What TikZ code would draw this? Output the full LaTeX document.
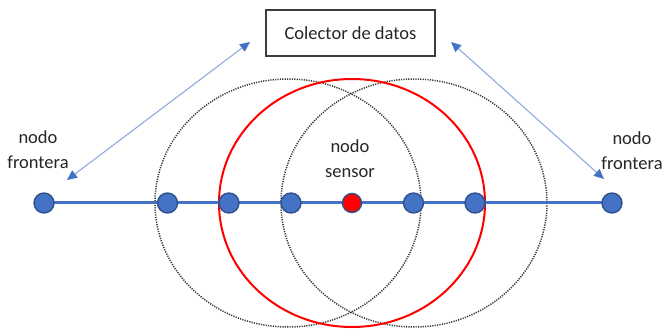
\documentclass[tikz,border=0pt]{standalone}
\usepackage{fontspec}
\setmainfont{Carlito}
\usepackage{tikz}
\usetikzlibrary{arrows.meta, positioning}
\usepackage{xcolor}
\definecolor{nodeblue}{RGB}{68,114,196}
\definecolor{nodeedge}{RGB}{47,82,143}
\definecolor{linkblue}{RGB}{143,170,220}
\definecolor{textgray}{RGB}{38,38,38}

\begin{document}
\begin{tikzpicture}[x=1pt, y=-1pt,
bluenode/.style={circle, draw=nodeedge, fill=nodeblue, line width=1.4pt, minimum size=20pt, inner sep=0pt},
rednode/.style={bluenode, fill=red, minimum size=19pt},
labelnode/.style={align=center, font=\fontsize{18.5}{25}\selectfont, text=textgray, inner sep=0pt},
collectorbox/.style={rectangle, draw=textgray!90, line width=1.5pt, minimum width=169pt, minimum height=46pt, inner sep=0pt, font=\fontsize{18.5}{25}\selectfont, text=textgray},
rangering/.style={draw=gray!45!black, line width=1.5pt, dash pattern=on 1.2pt off 1.2pt},
linkarrow/.style={{Triangle[length=10pt, width=9pt, color=nodeblue]}-{Triangle[length=10pt, width=9pt, color=nodeblue]}, draw=linkblue, line width=1.1pt},
]
\useasboundingbox (0,0) rectangle (664,331);

%Ranges
\draw[rangering] (288,203) ellipse [x radius=133, y radius=124];
\draw[rangering] (414,203) ellipse [x radius=133, y radius=124];
\draw[red, line width=2pt] (352,203) ellipse [x radius=133, y radius=124];

%Nodes
\node[collectorbox] at (350.5,33) (COL) {Colector de datos};
\node[labelnode] at (38,150) (LBLL) {nodo\\frontera};
\node[labelnode] at (632,151) (LBLR) {nodo\\frontera};
\node[labelnode] at (350,158.5) (LBLS) {nodo\\sensor};

\coordinate (AL1) at (250,42);
\coordinate (AL2) at (67,180);
\coordinate (AR1) at (451,42);
\coordinate (AR2) at (604,179);

%Lines
\draw [nodeblue, line width=3pt] (44,203) -- (612,203);
\draw [linkarrow] (AL1) -- (AL2);
\draw [linkarrow] (AR1) -- (AR2);

\node[bluenode] at (44,203) (N1) {};
\node[bluenode] at (167.5,203) (N2) {};
\node[bluenode] at (229,203) (N3) {};
\node[bluenode] at (291,203) (N4) {};
\node[rednode] at (352,203) (SEN) {};
\node[bluenode] at (413.5,203) (N5) {};
\node[bluenode] at (475,203) (N6) {};
\node[bluenode] at (612,203) (N7) {};

\end{tikzpicture}
\end{document}
